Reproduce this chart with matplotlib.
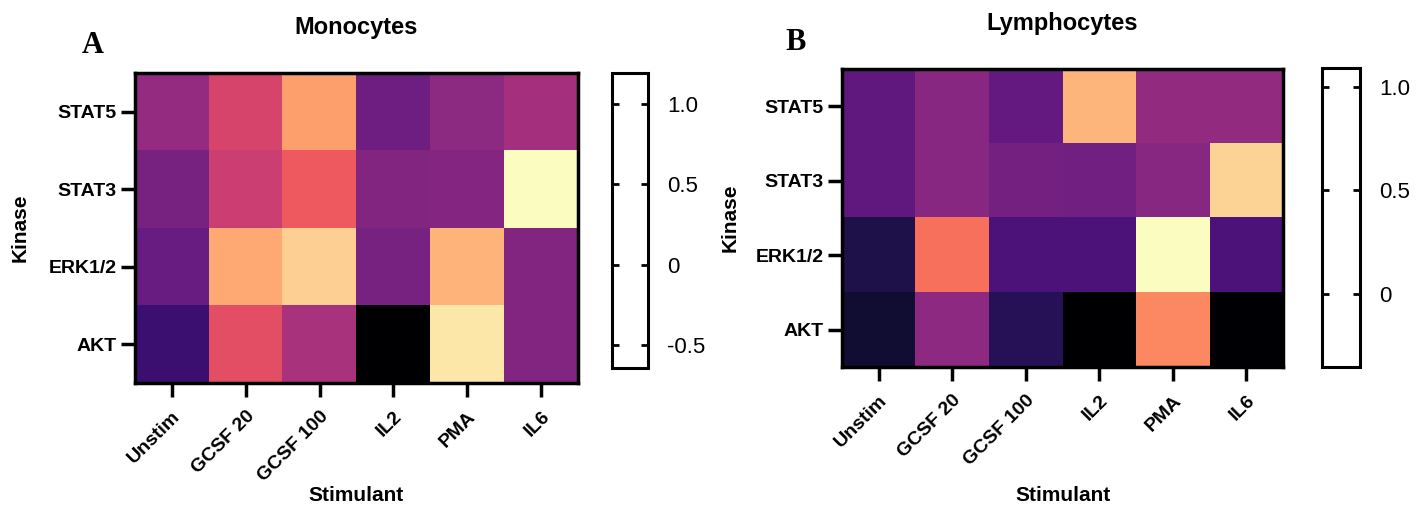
import numpy as np
import matplotlib
matplotlib.use("Agg")
import matplotlib.pyplot as plt
from matplotlib.colors import ListedColormap, Normalize
from matplotlib.cm import ScalarMappable

plt.rcParams['font.family'] = ['Liberation Sans', 'DejaVu Sans']

stimulants = ["Unstim", "GCSF 20", "GCSF 100", "IL2", "PMA", "IL6"]
kinases = ["STAT5", "STAT3", "ERK1/2", "AKT"]

mono_values = [
    [0.13, 0.42, 0.82, -0.04, 0.09, 0.20],
    [0.00, 0.37, 0.55, 0.04, 0.06, 1.19],
    [-0.07, 0.86, 1.01, 0.00, 0.90, 0.04],
    [-0.27, 0.49, 0.22, -0.64, 1.10, 0.04],
]
lymph_values = [
    [0.07, 0.21, 0.08, 0.87, 0.25, 0.25],
    [0.07, 0.21, 0.14, 0.13, 0.21, 0.96],
    [-0.16, 0.66, 0.00, 0.00, 1.09, 0.00],
    [-0.22, 0.23, -0.13, -0.35, 0.73, -0.34],
]
mono_cbar_ticks = [-0.5, 0, 0.5, 1.0]
mono_cbar_labels = ["-0.5", "0", "0.5", "1.0"]
lymph_cbar_ticks = [0, 0.5, 1.0]
lymph_cbar_labels = ["0", "0.5", "1.0"]

fig = plt.figure(figsize=(14.23, 5.14), dpi=100)

def panel(rect, cbrect, data, title, letter, letter_xy, cticks, clabels,
          ylabelpad, xlabelpad):
    data = np.array(data)
    ax = fig.add_axes(rect)
    vmin, vmax = data.min(), data.max()
    ax.imshow(data, cmap='magma', vmin=vmin, vmax=vmax, aspect='auto',
              interpolation='nearest')
    ax.set_xticks(range(len(stimulants)))
    ax.set_xticklabels(stimulants, rotation=45, ha='right', rotation_mode='anchor',
                       fontsize=14, fontweight='bold')
    ax.set_yticks(range(len(kinases)))
    ax.set_yticklabels(kinases, fontsize=14, fontweight='bold')
    ax.tick_params(axis='x', length=10, width=2.5, pad=8)
    ax.tick_params(axis='y', length=10, width=2.5, pad=3)
    for s in ax.spines.values():
        s.set_linewidth(2.5)
    ax.set_xlabel("Stimulant", fontsize=15, fontweight='bold', labelpad=xlabelpad)
    ax.set_ylabel("Kinase", fontsize=15, fontweight='bold', labelpad=ylabelpad)
    ax.set_title(title, fontsize=17, fontweight='bold', pad=28)
    fig.text(letter_xy[0], letter_xy[1], letter, fontsize=22, fontweight='bold',
             family='Liberation Serif', ha='center', va='center')

    cax = fig.add_axes(cbrect)
    sm = ScalarMappable(norm=Normalize(vmin=vmin, vmax=vmax),
                        cmap=ListedColormap(['white']))
    cb = fig.colorbar(sm, cax=cax)
    cb.outline.set_linewidth(2.2)
    cb.set_ticks(cticks)
    cb.set_ticklabels(clabels)
    cax.tick_params(axis='y', which='both', left=True, right=True,
                    direction='in', length=5, width=2, labelsize=16, pad=14)
    cax.minorticks_off()

panel([0.0949, 0.2549, 0.3113, 0.603], [0.430, 0.284, 0.0253, 0.574],
      mono_values, "Monocytes", "A", (0.065, 0.912), mono_cbar_ticks, mono_cbar_labels, 14, 1)
panel([0.5917, 0.286, 0.310, 0.580], [0.929, 0.286, 0.0267, 0.582],
      lymph_values, "Lymphocytes", "B", (0.559, 0.918), lymph_cbar_ticks, lymph_cbar_labels, 12, 12)

fig.savefig("out.png", dpi=100, facecolor='white')
